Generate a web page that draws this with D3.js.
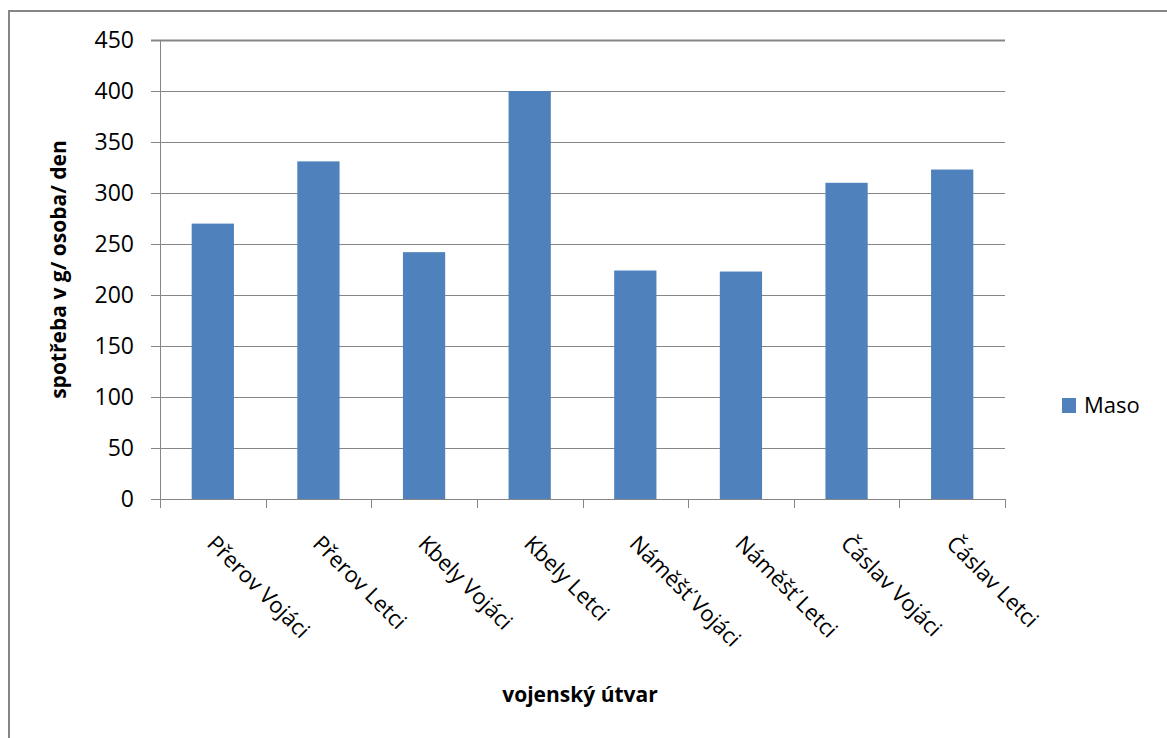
<!DOCTYPE html>
<html>
<head>
<meta charset="utf-8">
<script src="https://cdn.jsdelivr.net/npm/d3@7"></script>
<style>
  html, body { margin: 0; padding: 0; background: #fff; }
  svg { display: block; }
  text { font-family: "Open Sans", "Noto Sans", sans-serif; fill: #000; }
</style>
</head>
<body>
<svg id="chart" width="1167" height="738"></svg>
<script>
// Spotřeba masa podle vojenského útvaru (g / osoba / den)
const categories = [
  "Přerov Vojáci", "Přerov Letci", "Kbely Vojáci", "Kbely Letci",
  "Náměšť Vojáci", "Náměšť Letci", "Čáslav Vojáci", "Čáslav Letci"
];
const masoValues = [270, 331, 242, 400, 224, 223, 310, 323];
const yTicks = [0, 50, 100, 150, 200, 250, 300, 350, 400, 450];
const seriesName = "Maso";
const yTitle = "spotřeba v g/ osoba/ den";
const xTitle = "vojenský útvar";

const svg = d3.select("#chart");
const gridColor = "#868686";
const barColor = "#4F81BD";

const plot = { left: 160, right: 1005, top: 40, bottom: 499 };

// outer chart frame (left and top edges visible)
svg.append("path")
  .attr("d", "M9,740 L9,11 L1170,11")
  .attr("fill", "none")
  .attr("stroke", gridColor)
  .attr("stroke-width", 2);

const x = d3.scaleBand()
  .domain(categories)
  .range([plot.left, plot.right])
  .paddingInner(0.6)
  .paddingOuter(0.3);

const y = d3.scaleLinear()
  .domain([0, 450])
  .range([plot.bottom, plot.top]);

// horizontal gridlines
svg.append("g")
  .selectAll("line")
  .data(yTicks)
  .join("line")
  .attr("x1", plot.left - 9)
  .attr("x2", plot.right)
  .attr("y1", d => Math.round(y(d)) + 0.5)
  .attr("y2", d => Math.round(y(d)) + 0.5)
  .attr("stroke", gridColor)
  .attr("stroke-width", d => d === 450 ? 2 : 1);

// y tick labels
svg.append("g")
  .selectAll("text")
  .data(yTicks)
  .join("text")
  .attr("x", 134)
  .attr("y", d => y(d))
  .attr("dy", "0.36em")
  .attr("text-anchor", "end")
  .style("font-size", "23px")
  .text(d => d);

// bars
svg.append("g")
  .selectAll("rect")
  .data(masoValues)
  .join("rect")
  .attr("x", (d, i) => x(categories[i]))
  .attr("width", x.bandwidth())
  .attr("y", d => y(d))
  .attr("height", d => y(0) - y(d))
  .attr("fill", barColor);

// category axis: boundary ticks
const boundaries = d3.range(categories.length + 1).map(i => plot.left + i * (plot.right - plot.left) / categories.length);
svg.append("g")
  .selectAll("line")
  .data(boundaries)
  .join("line")
  .attr("x1", d => Math.round(d) + 0.5)
  .attr("x2", d => Math.round(d) + 0.5)
  .attr("y1", plot.bottom)
  .attr("y2", plot.bottom + 9)
  .attr("stroke", gridColor);

// y axis line
svg.append("line")
  .attr("x1", plot.left + 0.5).attr("x2", plot.left + 0.5)
  .attr("y1", plot.top).attr("y2", plot.bottom + 9)
  .attr("stroke", gridColor);

// x axis baseline
svg.append("line")
  .attr("x1", plot.left).attr("x2", plot.right)
  .attr("y1", plot.bottom + 0.5).attr("y2", plot.bottom + 0.5)
  .attr("stroke", gridColor);

// rotated category labels
svg.append("g")
  .selectAll("text")
  .data(categories)
  .join("text")
  .attr("transform", d => `translate(${x(d) + x.bandwidth() / 2 - 7},${545}) rotate(45)`)
  .attr("text-anchor", "start")
  .style("font-size", "22px")
  .text(d => d);

// axis titles
svg.append("text")
  .attr("transform", `translate(66,${(plot.top + plot.bottom) / 2}) rotate(-90)`)
  .attr("text-anchor", "middle")
  .style("font-size", "21px")
  .style("font-weight", "bold")
  .text(yTitle);

svg.append("text")
  .attr("x", 580)
  .attr("y", 702)
  .attr("text-anchor", "middle")
  .style("font-size", "21px")
  .style("font-weight", "bold")
  .text(xTitle);

// legend
const legend = svg.append("g").attr("transform", "translate(1062,398)");
legend.append("rect")
  .attr("width", 14).attr("height", 15)
  .attr("fill", barColor);
legend.append("text")
  .attr("x", 22).attr("y", 15)
  .style("font-size", "22px")
  .text(seriesName);
</script>
</body>
</html>
